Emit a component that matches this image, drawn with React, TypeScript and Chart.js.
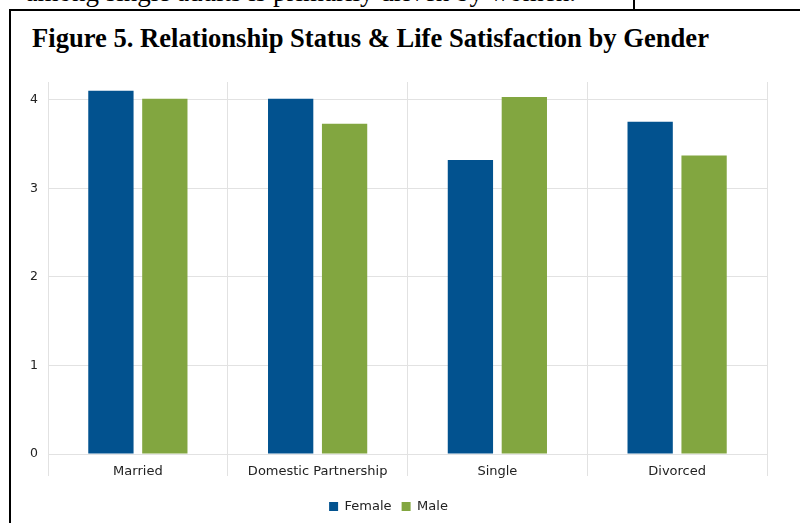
import React, { useEffect, useRef } from "react";
import { Chart, registerables } from "chart.js";

Chart.register(...registerables);

const categories = ["Married", "Domestic Partnership", "Single", "Divorced"];
const femaleValues = [4.1, 4.01, 3.32, 3.75];
const maleValues = [4.01, 3.73, 4.03, 3.37];
const seriesNames = ["Female", "Male"];

const TITLE = "Figure 5. Relationship Status & Life Satisfaction by Gender";
const TOP_TEXT = "among single adults is primarily driven by women.";

export default function App() {
  const ref = useRef<HTMLCanvasElement | null>(null);

  useEffect(() => {
    if (!ref.current) return;
    const font = "'DejaVu Sans', 'Open Sans', sans-serif";
    const chart = new Chart(ref.current, {
      type: "bar",
      data: {
        labels: categories,
        datasets: [
          {
            label: seriesNames[0],
            data: femaleValues,
            backgroundColor: "#02528f",
            categoryPercentage: 0.6,
            barPercentage: 0.84,
          },
          {
            label: seriesNames[1],
            data: maleValues,
            backgroundColor: "#82a640",
            categoryPercentage: 0.6,
            barPercentage: 0.84,
          },
        ],
      },
      options: {
        responsive: false,
        animation: false,
        devicePixelRatio: 1,
        layout: { padding: { top: 22, right: 23, left: 0, bottom: 0 } },
        plugins: {
          tooltip: { enabled: false },
          legend: {
            position: "bottom",
            labels: {
              boxWidth: 9,
              boxHeight: 9,
              padding: 10,
              color: "#222",
              font: { family: font, size: 13 },
            },
          },
        },
        scales: {
          x: {
            grid: { offset: true, color: "#e2e2e2", tickLength: 22 },
            border: { display: false },
            ticks: { padding: -12, color: "#222", font: { family: font, size: 13 } },
            afterFit: (s: any) => {
              s.height = 36;
            },
          },
          y: {
            min: 0,
            max: 4.2,
            grid: { color: "#e2e2e2", drawTicks: false },
            border: { display: false },
            ticks: {
              stepSize: 1,
              includeBounds: false,
              padding: 10,
              color: "#222",
              font: { family: font, size: 12.5 },
            },
            afterFit: (s: any) => {
              s.width = 38;
            },
          },
        },
      },
    });
    return () => chart.destroy();
  }, []);

  return (
    <div
      style={{
        position: "absolute",
        left: 0,
        top: 0,
        width: 800,
        height: 523,
        overflow: "hidden",
        background: "#fff",
      }}
    >
      <div
        style={{
          position: "absolute",
          right: 800 - 576,
          top: -22,
          fontFamily: "'Liberation Serif', 'Times New Roman', serif",
          fontSize: 27,
          lineHeight: "28px",
          whiteSpace: "nowrap",
          color: "#000",
        }}
      >
        {TOP_TEXT}
      </div>
      <div style={{ position: "absolute", left: 633, top: 0, width: 2, height: 11, background: "#000" }} />
      <div style={{ position: "absolute", left: 9, top: 9, width: 791, height: 2, background: "#000" }} />
      <div style={{ position: "absolute", left: 9, top: 9, width: 2, height: 514, background: "#000" }} />
      <div
        style={{
          position: "absolute",
          left: 32,
          top: 22,
          fontFamily: "'Liberation Serif', 'Times New Roman', serif",
          fontWeight: "bold",
          fontSize: 26.6,
          lineHeight: "32px",
          whiteSpace: "nowrap",
          color: "#000",
        }}
      >
        {TITLE}
      </div>
      <canvas
        ref={ref}
        width={780}
        height={463}
        style={{ position: "absolute", left: 10, top: 60, width: 780, height: 463 }}
      />
    </div>
  );
}
